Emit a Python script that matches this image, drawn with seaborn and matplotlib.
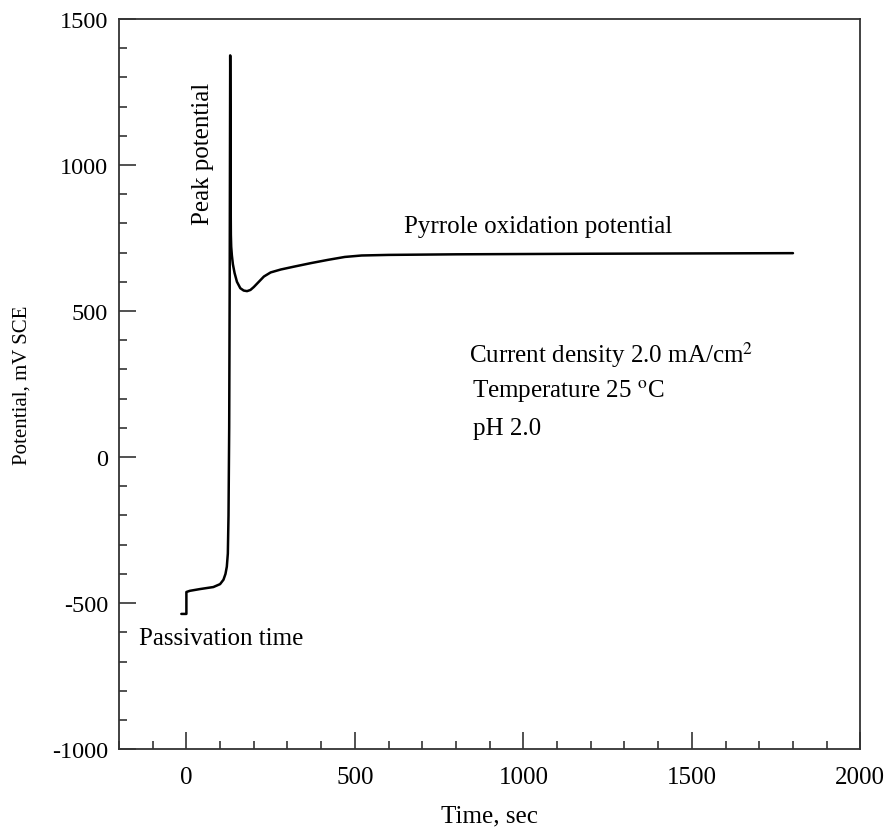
import matplotlib
matplotlib.use("Agg")
import matplotlib.pyplot as plt
import seaborn as sns
import pandas as pd
from matplotlib.ticker import MultipleLocator

time_s = [-15, 0, 0.01, 10, 40, 80, 100, 110, 116, 120, 123, 125, 127, 128.5, 130, 131,
          131.5, 132, 133, 135, 138, 143, 150, 160, 170, 180, 190, 200, 215, 230, 250,
          280, 320, 370, 420, 470, 520, 600, 800, 1000, 1200, 1500, 1800]
potential_mv = [-537, -537, -462, -458, -452, -445, -435, -420, -400, -375, -330, -200, 100, 600,
                1375, 1100, 850, 760, 720, 690, 660, 630, 600, 578, 570, 568, 572, 582, 600,
                618, 632, 642, 652, 664, 675, 685, 690, 692, 694, 695, 696, 697, 698]

df = pd.DataFrame({"Time": time_s, "Potential": potential_mv})

sns.set_style("ticks")
plt.rcParams["font.family"] = ["Liberation Serif", "DejaVu Serif"]
plt.rcParams["mathtext.fontset"] = "stix"
plt.rcParams["axes.unicode_minus"] = False
plt.rcParams["text.color"] = "black"
plt.rcParams["axes.labelcolor"] = "black"
plt.rcParams["xtick.color"] = "#333333"
plt.rcParams["ytick.color"] = "#333333"
plt.rcParams["xtick.labelcolor"] = "black"
plt.rcParams["ytick.labelcolor"] = "black"

FS = 18

fig = plt.figure(figsize=(8.9, 8.28), dpi=100)
ax = fig.add_axes([0.1337, 0.094, 0.833, 0.882])
sns.lineplot(data=df, x="Time", y="Potential", color="black", linewidth=1.8,
             sort=False, ax=ax, estimator=None)

ax.set_xlim(-200, 2000)
ax.set_ylim(-1000, 1500)
ax.xaxis.set_major_locator(MultipleLocator(500))
ax.xaxis.set_minor_locator(MultipleLocator(100))
ax.yaxis.set_major_locator(MultipleLocator(500))
ax.yaxis.set_minor_locator(MultipleLocator(100))
ax.tick_params(which="major", direction="in", length=12, width=1.2, labelsize=FS,
               top=False, right=False)
ax.tick_params(which="minor", direction="in", length=6, width=1.2, top=False, right=False)
ax.tick_params(axis="x", which="major", pad=12)
ax.tick_params(axis="y", which="major", pad=8, labelsize=17.5)
for s in ax.spines.values():
    s.set_linewidth(1.3)
    s.set_color("#333333")
ax.set_xlabel("Time, sec", fontsize=FS, labelpad=12)
ax.set_ylabel("Potential, mV SCE", fontsize=15)
ax.yaxis.set_label_coords(-0.118, 0.5)

ax.text(48, 1040, "Peak potential", rotation=90, fontsize=FS, ha="center", va="center")
ax.text(645, 790, "Pyrrole oxidation potential", fontsize=FS, ha="left", va="center")
ax.text(838, 352, "Current density 2.0 mA/cm$^2$", fontsize=FS, ha="left", va="center")
ax.text(848, 228, "Temperature 25 $^\\mathrm{o}$C", fontsize=FS, ha="left", va="center")
ax.text(850, 100, "pH 2.0", fontsize=FS, ha="left", va="center")
ax.text(-142, -620, "Passivation time", fontsize=FS, ha="left", va="center")

fig.savefig("out.png", dpi=100)
